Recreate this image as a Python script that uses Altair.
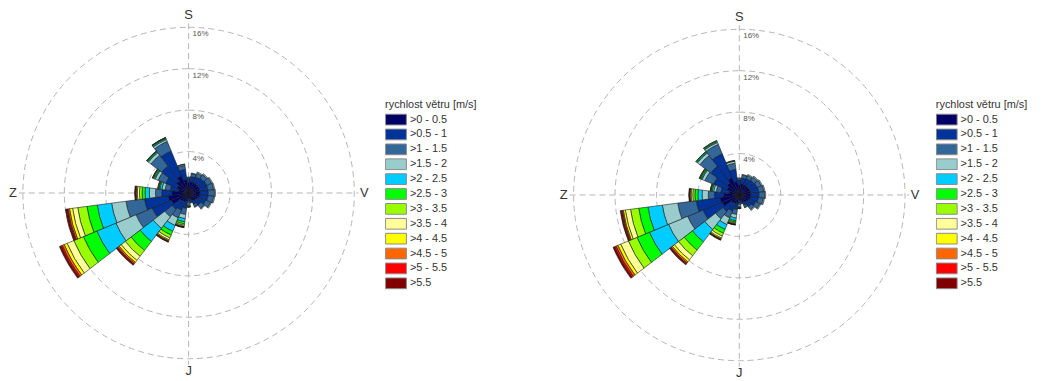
import math
import altair as alt
import pandas as pd

classes = [">0 - 0.5", ">0.5 - 1", ">1 - 1.5", ">1.5 - 2", ">2 - 2.5", ">2.5 - 3",
           ">3 - 3.5", ">3.5 - 4", ">4 - 4.5", ">4.5 - 5", ">5 - 5.5", ">5.5"]
colors = ["#000066", "#003399", "#336699", "#99cccc", "#00ccff", "#00ff00",
          "#99ff00", "#ffff99", "#ffff00", "#ff6600", "#ff0000", "#800000"]
directions = [0, 15, 30, 45, 60, 75, 90, 105, 120, 135, 150, 165,
              180, 195, 210, 225, 240, 255, 270, 285, 300, 315, 330, 345]

# left rose: frequency [%] per speed class, one value per direction
left_c1 = [1.0, 1.1, 1.1, 1.1, 1.1, 1.1, 1.1, 1.1, 1.0, 0.9, 0.8, 0.6, 0.5, 0.8, 0.9, 1.0, 1.8, 2.0, 1.6, 1.0, 1.2, 1.5, 1.8, 1.3]
left_c2 = [0.4, 0.5, 0.6, 0.7, 0.8, 0.8, 0.8, 0.8, 0.8, 0.6, 0.4, 0.25, 0.3, 0.7, 0.9, 1.0, 2.0, 2.3, 1.0, 0.8, 1.2, 1.8, 2.6, 1.0]
left_c3 = [0.1, 0.3, 0.4, 0.45, 0.5, 0.55, 0.6, 0.55, 0.5, 0.4, 0.25, 0.1, 0.2, 0.6, 0.8, 0.9, 1.7, 1.8, 0.6, 0.5, 0.8, 1.3, 1.0, 0.4]
left_c4 = [0.05, 0.05, 0.1, 0.1, 0.1, 0.1, 0.1, 0.1, 0.1, 0.08, 0.05, 0.03, 0.15, 0.4, 0.8, 1.4, 2.1, 1.4, 0.6, 0.3, 0.3, 0.3, 0.2, 0.1]
left_c5 = [0, 0, 0, 0, 0, 0, 0, 0, 0, 0, 0, 0, 0.1, 0.3, 0.6, 1.6, 2.0, 1.4, 0.4, 0.2, 0.1, 0.1, 0.1, 0.03]
left_c6 = [0, 0, 0, 0, 0, 0, 0, 0, 0, 0, 0, 0, 0.05, 0.2, 0.4, 1.1, 1.4, 1.0, 0.3, 0.1, 0.1, 0.08, 0.08, 0]
left_c7 = [0, 0, 0, 0, 0, 0, 0, 0, 0, 0, 0, 0, 0.03, 0.15, 0.3, 0.7, 1.0, 0.9, 0.25, 0.05, 0.05, 0.02, 0.02, 0]
left_c8 = [0, 0, 0, 0, 0, 0, 0, 0, 0, 0, 0, 0, 0.02, 0.1, 0.2, 0.5, 0.7, 0.5, 0.2, 0.05, 0.03, 0.02, 0.01, 0]
left_c9 = [0, 0, 0, 0, 0, 0, 0, 0, 0, 0, 0, 0, 0.01, 0.05, 0.1, 0.25, 0.3, 0.3, 0.1, 0.02, 0.01, 0, 0, 0]
left_c10 = [0, 0, 0, 0, 0, 0, 0, 0, 0, 0, 0, 0, 0, 0.03, 0.05, 0.15, 0.2, 0.15, 0.06, 0, 0, 0, 0, 0]
left_c11 = [0, 0, 0, 0, 0, 0, 0, 0, 0, 0, 0, 0, 0, 0.02, 0.05, 0.1, 0.15, 0.1, 0.05, 0, 0, 0, 0, 0]
left_c12 = [0, 0, 0, 0, 0, 0, 0, 0, 0, 0, 0, 0, 0, 0.02, 0.05, 0.1, 0.15, 0.15, 0.05, 0, 0, 0, 0, 0]

# right rose
right_c1 = [1.0, 1.1, 1.1, 1.1, 1.1, 1.1, 1.1, 1.1, 1.0, 0.9, 0.75, 0.55, 0.5, 0.8, 0.9, 1.0, 1.8, 1.9, 1.5, 1.0, 1.3, 1.5, 1.8, 1.3]
right_c2 = [0.45, 0.55, 0.6, 0.7, 0.75, 0.8, 0.8, 0.75, 0.7, 0.55, 0.35, 0.2, 0.3, 0.6, 0.8, 1.0, 2.0, 2.3, 0.9, 0.8, 1.4, 2.0, 2.5, 1.2]
right_c3 = [0.15, 0.3, 0.35, 0.4, 0.45, 0.5, 0.55, 0.5, 0.45, 0.35, 0.2, 0.1, 0.15, 0.5, 0.7, 0.9, 1.6, 1.8, 0.6, 0.45, 0.9, 1.3, 1.0, 0.6]
right_c4 = [0.05, 0.05, 0.1, 0.1, 0.1, 0.1, 0.1, 0.1, 0.1, 0.08, 0.05, 0.03, 0.15, 0.35, 0.7, 1.3, 2.0, 1.5, 0.6, 0.25, 0.3, 0.3, 0.2, 0.2]
right_c5 = [0, 0, 0, 0, 0, 0, 0, 0, 0, 0, 0, 0, 0.1, 0.25, 0.5, 1.5, 2.0, 1.4, 0.4, 0.15, 0.1, 0.1, 0.1, 0.05]
right_c6 = [0, 0, 0, 0, 0, 0, 0, 0, 0, 0, 0, 0, 0.05, 0.15, 0.4, 1.0, 1.3, 0.9, 0.3, 0.1, 0.1, 0.08, 0.08, 0.02]
right_c7 = [0, 0, 0, 0, 0, 0, 0, 0, 0, 0, 0, 0, 0.03, 0.1, 0.3, 0.7, 0.9, 0.8, 0.2, 0.05, 0.05, 0.02, 0.02, 0]
right_c8 = [0, 0, 0, 0, 0, 0, 0, 0, 0, 0, 0, 0, 0.02, 0.08, 0.2, 0.5, 0.8, 0.5, 0.15, 0.03, 0.03, 0, 0, 0]
right_c9 = [0, 0, 0, 0, 0, 0, 0, 0, 0, 0, 0, 0, 0.01, 0.04, 0.1, 0.25, 0.3, 0.2, 0.1, 0.02, 0.01, 0, 0, 0]
right_c10 = [0, 0, 0, 0, 0, 0, 0, 0, 0, 0, 0, 0, 0, 0.02, 0.05, 0.15, 0.2, 0.1, 0.05, 0, 0, 0, 0, 0]
right_c11 = [0, 0, 0, 0, 0, 0, 0, 0, 0, 0, 0, 0, 0, 0.02, 0.04, 0.1, 0.15, 0.1, 0.04, 0, 0, 0, 0, 0]
right_c12 = [0, 0, 0, 0, 0, 0, 0, 0, 0, 0, 0, 0, 0, 0.02, 0.04, 0.1, 0.15, 0.1, 0.04, 0, 0, 0, 0, 0]

grid_levels = [4, 8, 12, 16]
grid_labels = ["4%", "8%", "12%", "16%"]
compass_dirs = [0, 90, 180, 270]
compass_labels = ["S", "V", "J", "Z"]

left_series = [left_c1, left_c2, left_c3, left_c4, left_c5, left_c6,
               left_c7, left_c8, left_c9, left_c10, left_c11, left_c12]
right_series = [right_c1, right_c2, right_c3, right_c4, right_c5, right_c6,
                right_c7, right_c8, right_c9, right_c10, right_c11, right_c12]

SECTOR = 15
R = 167
FONT = "Liberation Sans"
GRID_COLOR = "#b4b4b4"


def long_table(series):
    rows = []
    for di, d in enumerate(directions):
        start = 0.0
        for ci, cls in enumerate(classes):
            v = series[ci][di]
            if v > 0:
                rows.append({"dir": d, "cls": cls, "order": ci, "r0": start, "r1": start + v})
            start += v
    return pd.DataFrame(rows)


grid_df = pd.DataFrame({"r": grid_levels, "lab": grid_labels})
compass_df = pd.DataFrame({"dir": compass_dirs, "lab": compass_labels})
one_df = pd.DataFrame({"a": [0]})

theta_scale = alt.Scale(domain=[0, 360], range=[0, math.tau])
r_scale = alt.Scale(type="linear", domain=[0, 16], range=[0, R], zero=True)
color_scale = alt.Scale(domain=classes, range=colors)


def compass_layer(X, Y, labels, radius):
    return alt.Chart(compass_df).transform_filter(
        alt.FieldOneOfPredicate(field="lab", oneOf=labels)
    ).mark_text(
        radius=radius, align="center", baseline="middle", fontSize=13,
        color="#333333", font=FONT
    ).encode(x=X, y=Y, theta=alt.Theta("dir:Q", scale=theta_scale, stack=None), text="lab:N")


def rose(df, cx, cy, lx, ly):
    X = alt.value(cx)
    Y = alt.value(cy)
    circles = alt.Chart(grid_df).mark_arc(
        filled=False, theta=0, theta2=math.tau, stroke=GRID_COLOR,
        strokeWidth=1, strokeDash=[6, 4]
    ).encode(x=X, y=Y, radius=alt.Radius("r:Q", scale=r_scale, stack=None))
    hline = alt.Chart(one_df).mark_rule(
        stroke=GRID_COLOR, strokeWidth=1, strokeDash=[6, 4]
    ).encode(x=alt.value(cx - 171), x2=alt.value(cx + 171), y=Y)
    vline = alt.Chart(one_df).mark_rule(
        stroke=GRID_COLOR, strokeWidth=1, strokeDash=[6, 4]
    ).encode(x=X, y=alt.value(cy - 171), y2=alt.value(cy + 173))
    bars = alt.Chart(df).transform_calculate(
        t0=f"datum.dir - {SECTOR / 2}", t1=f"datum.dir + {SECTOR / 2}"
    ).mark_arc(stroke="#1a1a1a", strokeWidth=0.6).encode(
        x=X, y=Y,
        theta=alt.Theta("t0:Q", scale=theta_scale, stack=None),
        theta2="t1:Q",
        radius=alt.Radius("r1:Q", scale=r_scale, stack=None),
        radius2="r0:Q",
        color=alt.Color(
            "cls:N", scale=color_scale,
            legend=alt.Legend(
                title="rychlost větru [m/s]", orient="none", legendX=lx, legendY=ly,
                symbolType="M-1,-0.9L2.5,-0.9L2.5,0.9L-1,0.9Z", symbolSize=144,
                symbolStrokeColor="#8a8a8a", symbolStrokeWidth=1, symbolOpacity=1,
                labelFontSize=11, titleFontSize=11, titleFontWeight="normal",
                titleColor="#333333", labelColor="#333333", labelFont=FONT, titleFont=FONT,
                labelOffset=12, titlePadding=2.5, padding=0, rowPadding=0,
                clipHeight=15,
            ),
        ),
        order=alt.Order("order:Q"),
    )
    pct = alt.Chart(grid_df).mark_text(
        theta=0, align="left", baseline="middle", dx=4, dy=7,
        fontSize=8, color="#555555", font=FONT
    ).encode(x=X, y=Y, radius=alt.Radius("r:Q", scale=r_scale, stack=None), text="lab:N")
    vert = compass_layer(X, Y, ["S", "J"], 179)
    sides = compass_layer(X, Y, ["V", "Z"], 177)
    return alt.layer(circles, hline, vline, bars, pct, vert, sides)


left = rose(long_table(left_series), 182, 185, 380, 90)
right = rose(long_table(right_series), 737, 187, 935, 90)

chart = alt.layer(left, right).resolve_scale(color="independent").properties(
    width=1038, height=373, autosize="none", padding=0
).configure_view(strokeWidth=0)

chart.save("out.html", embed_options={"renderer": "svg", "actions": False})
